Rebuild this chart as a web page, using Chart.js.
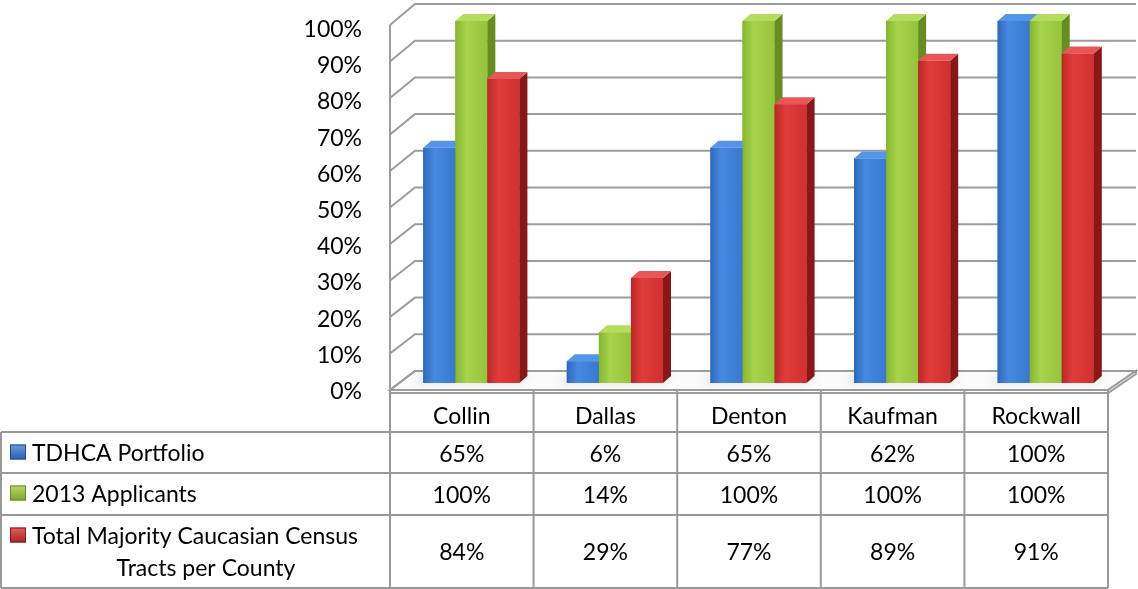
<!DOCTYPE html>
<html>
<head>
<meta charset="utf-8">
<title>County comparison</title>
<script src="https://cdn.jsdelivr.net/npm/chart.js@4.4.1/dist/chart.umd.min.js"></script>
<style>
  html, body { margin: 0; padding: 0; background: #fff; }
  #wrap { width: 1138px; height: 589px; }
</style>
</head>
<body>
<div id="wrap"><canvas id="chart" width="1138" height="589"></canvas></div>
<script>
// Data
const counties = ['Collin', 'Dallas', 'Denton', 'Kaufman', 'Rockwall'];
const tdhcaPortfolio = [65, 6, 65, 62, 100];
const applicants2013 = [100, 14, 100, 100, 100];
const majorityCaucasian = [84, 29, 77, 89, 91];
const seriesNames = ['TDHCA Portfolio', '2013 Applicants', 'Total Majority Caucasian Census Tracts per County'];
const yTicks = [0, 10, 20, 30, 40, 50, 60, 70, 80, 90, 100];

const FONT_FAMILY = 'Lato';
const FONT_SIZE = 23;
const LINE = '#9c9c9c';

// colours per series: front gradient, top face, side face
const palettes = [
  { front: ['#2e68ba', '#4889e0', '#3878d1'], top: '#5595e7', side: '#1f4c8f', key: ['#6a9ce0', '#2b5fae'] },
  { front: ['#86b52e', '#a8d44d', '#95c33c'], top: '#b4dc5e', side: '#668d1f', key: ['#b6da6a', '#7ca52a'] },
  { front: ['#bd2626', '#e03c3c', '#cf3030'], top: '#e85656', side: '#8a1717', key: ['#e06060', '#a82222'] }
];

// the bars sit partway into the floor; walls are offset from that plane
const FRONT_DX = -9.5;
const BACK_DX_L = 15.5;
const BACK_DX_R = 18.5;
const BAR_DX = 8, BAR_DY = -7;

function frontY(ys, v) { return ys.getPixelForValue(v) + 7 - 3 * v / 100; }
function backY(ys, v) { return ys.getPixelForValue(v) - 12 - 5 * v / 100; }

function poly(ctx, pts, fill, stroke) {
  ctx.beginPath();
  ctx.moveTo(pts[0][0], pts[0][1]);
  for (let i = 1; i < pts.length; i++) ctx.lineTo(pts[i][0], pts[i][1]);
  ctx.closePath();
  if (fill) { ctx.fillStyle = fill; ctx.fill(); }
  if (stroke) { ctx.strokeStyle = stroke; ctx.stroke(); }
}

const wallsPlugin = {
  id: 'walls',
  beforeDatasetsDraw(chart) {
    const ctx = chart.ctx;
    const ys = chart.scales.y;
    const { left, right } = chart.chartArea;
    const fl = left + FRONT_DX, fr = right + FRONT_DX;
    const bl = left + BACK_DX_L, br = right + BACK_DX_R;
    const f0 = frontY(ys, 0), b0 = backY(ys, 0);
    ctx.save();
    ctx.lineWidth = 2;

    // floor slab
    poly(ctx, [[fl, f0], [fr, f0], [br, b0], [bl, b0]], '#fbfbfb', LINE);
    poly(ctx, [[fl, f0], [fr, f0], [fr, f0 + 3], [fl, f0 + 3]], '#ffffff', LINE);
    poly(ctx, [[fr, f0], [br, b0], [br, b0 + 3], [fr, f0 + 3]], '#ffffff', LINE);

    // back wall gridlines and left wall
    ctx.strokeStyle = LINE;
    yTicks.forEach(v => {
      const fy = frontY(ys, v), by = backY(ys, v);
      ctx.beginPath();
      ctx.moveTo(fl, fy);
      ctx.lineTo(bl, by);
      ctx.lineTo(br, by);
      ctx.stroke();
    });
    ctx.beginPath();
    ctx.moveTo(fl, frontY(ys, 0));
    ctx.lineTo(fl, frontY(ys, 100));
    ctx.stroke();

    // soft shadows on the floor behind each group
    const xs = chart.scales.x;
    ctx.filter = 'blur(4px)';
    counties.forEach((c, i) => {
      const cx = xs.getPixelForValue(i);
      const w = chart.getDatasetMeta(0).data[i].width * 3;
      const by = ys.getPixelForValue(0);
      poly(ctx, [[cx - w / 2 - 10, by], [cx + w / 2, by], [cx + w / 2 + 10, by - 10], [cx - w / 2 + 4, by - 10]], 'rgba(0,0,0,0.10)');
    });
    ctx.filter = 'none';
    ctx.restore();
  },
  afterDatasetsDraw(chart) {
    // paint bar faces left to right so the next bar hides the previous side
    const ctx = chart.ctx;
    ctx.save();
    counties.forEach((c, i) => {
      for (let d = 0; d < chart.data.datasets.length; d++) {
        const el = chart.getDatasetMeta(d).data[i];
        const { x, y, base, width } = el.getProps(['x', 'y', 'base', 'width'], true);
        const p = palettes[d];
        const l = x - width / 2, r = x + width / 2;
        const g = ctx.createLinearGradient(l, 0, r, 0);
        g.addColorStop(0, p.front[0]);
        g.addColorStop(0.35, p.front[1]);
        g.addColorStop(1, p.front[2]);
        ctx.fillStyle = g;
        ctx.fillRect(l, y, width, base - y);
        poly(ctx, [[r, y], [r + BAR_DX, y + BAR_DY], [r + BAR_DX, base + BAR_DY], [r, base]], p.side);
        poly(ctx, [[l, y], [r, y], [r + BAR_DX, y + BAR_DY], [l + BAR_DX, y + BAR_DY]], p.top);
      }
    });
    ctx.restore();
  },
  afterDraw(chart) {
    // data table under the plot
    const ctx = chart.ctx;
    const xs = chart.scales.x;
    const ys = chart.scales.y;
    const catW = xs.getPixelForValue(1) - xs.getPixelForValue(0);
    const edges = counties.map((c, i) => xs.getPixelForValue(i) - catW / 2 + FRONT_DX);
    edges.push(edges[edges.length - 1] + catW);
    const top = frontY(ys, 0);
    const rows = [432, 473, 515, 588];
    const tableLeft = 1;
    const tableRight = edges[edges.length - 1];

    ctx.save();
    ctx.strokeStyle = '#999999';
    ctx.lineWidth = 2;
    ctx.beginPath();
    edges.forEach(x => { ctx.moveTo(x, top); ctx.lineTo(x, rows[3]); });
    ctx.moveTo(tableLeft, rows[0]); ctx.lineTo(tableLeft, rows[3]);
    rows.forEach(y => { ctx.moveTo(tableLeft, y); ctx.lineTo(tableRight, y); });
    ctx.stroke();

    ctx.fillStyle = '#000';
    ctx.font = FONT_SIZE + 'px ' + FONT_FAMILY;
    ctx.textAlign = 'center';
    ctx.textBaseline = 'middle';
    counties.forEach((c, i) => {
      const cx = xs.getPixelForValue(i) + FRONT_DX;
      ctx.fillText(c, cx, 417);
    });

    const rowMid = [455, 496, 553];
    chart.data.datasets.forEach((ds, d) => {
      ds.data.forEach((v, i) => {
        const cx = xs.getPixelForValue(i) + FRONT_DX;
        ctx.fillText(v + '%', cx, rowMid[d]);
      });
    });

    // series labels with keys
    const keyY = [452, 493, 535];
    palettes.forEach((p, d) => {
      const ky = keyY[d] - 7.5;
      const kg = ctx.createLinearGradient(0, ky, 0, ky + 15);
      kg.addColorStop(0, p.key[0]);
      kg.addColorStop(1, p.key[1]);
      ctx.fillStyle = kg;
      ctx.fillRect(10, ky, 16, 15);
      ctx.strokeStyle = p.side;
      ctx.lineWidth = 1;
      ctx.strokeRect(10.5, ky + 0.5, 15, 14);
    });
    ctx.fillStyle = '#000';
    ctx.textAlign = 'left';
    ctx.fillText(seriesNames[0], 32, keyY[0] + 2);
    ctx.fillText(seriesNames[1], 32, keyY[1] + 2);
    ctx.fillText('Total Majority Caucasian Census', 32, keyY[2] + 2);
    ctx.textAlign = 'center';
    ctx.fillText('Tracts per County', 206, 569);
    ctx.restore();
  }
};

function draw() {
  new Chart(document.getElementById('chart'), {
    type: 'bar',
    data: {
      labels: counties,
      datasets: [
        { label: seriesNames[0], data: tdhcaPortfolio, backgroundColor: palettes[0].front[1] },
        { label: seriesNames[1], data: applicants2013, backgroundColor: palettes[1].front[1] },
        { label: seriesNames[2], data: majorityCaucasian, backgroundColor: palettes[2].front[1] }
      ]
    },
    options: {
      responsive: false,
      animation: false,
      events: [],
      layout: { padding: { left: 0, right: 20.5, top: 21, bottom: 206 } },
      datasets: { bar: { categoryPercentage: 0.67, barPercentage: 1.0, borderWidth: 0 } },
      plugins: { legend: { display: false }, tooltip: { enabled: false } },
      scales: {
        x: { display: false, offset: true, grid: { display: false } },
        y: {
          min: 0, max: 100,
          border: { display: false },
          grid: { display: false, drawTicks: false },
          afterFit: s => { s.width = 399.5; s.paddingTop = 0; s.paddingBottom = 0; },
          ticks: {
            stepSize: 10, padding: 37.5, labelOffset: 8.5, color: '#000',
            font: { family: FONT_FAMILY, size: FONT_SIZE },
            callback: v => v + '%'
          }
        }
      }
    },
    plugins: [wallsPlugin]
  });
}

document.fonts.load(FONT_SIZE + 'px ' + FONT_FAMILY).then(draw, draw);
</script>
</body>
</html>
